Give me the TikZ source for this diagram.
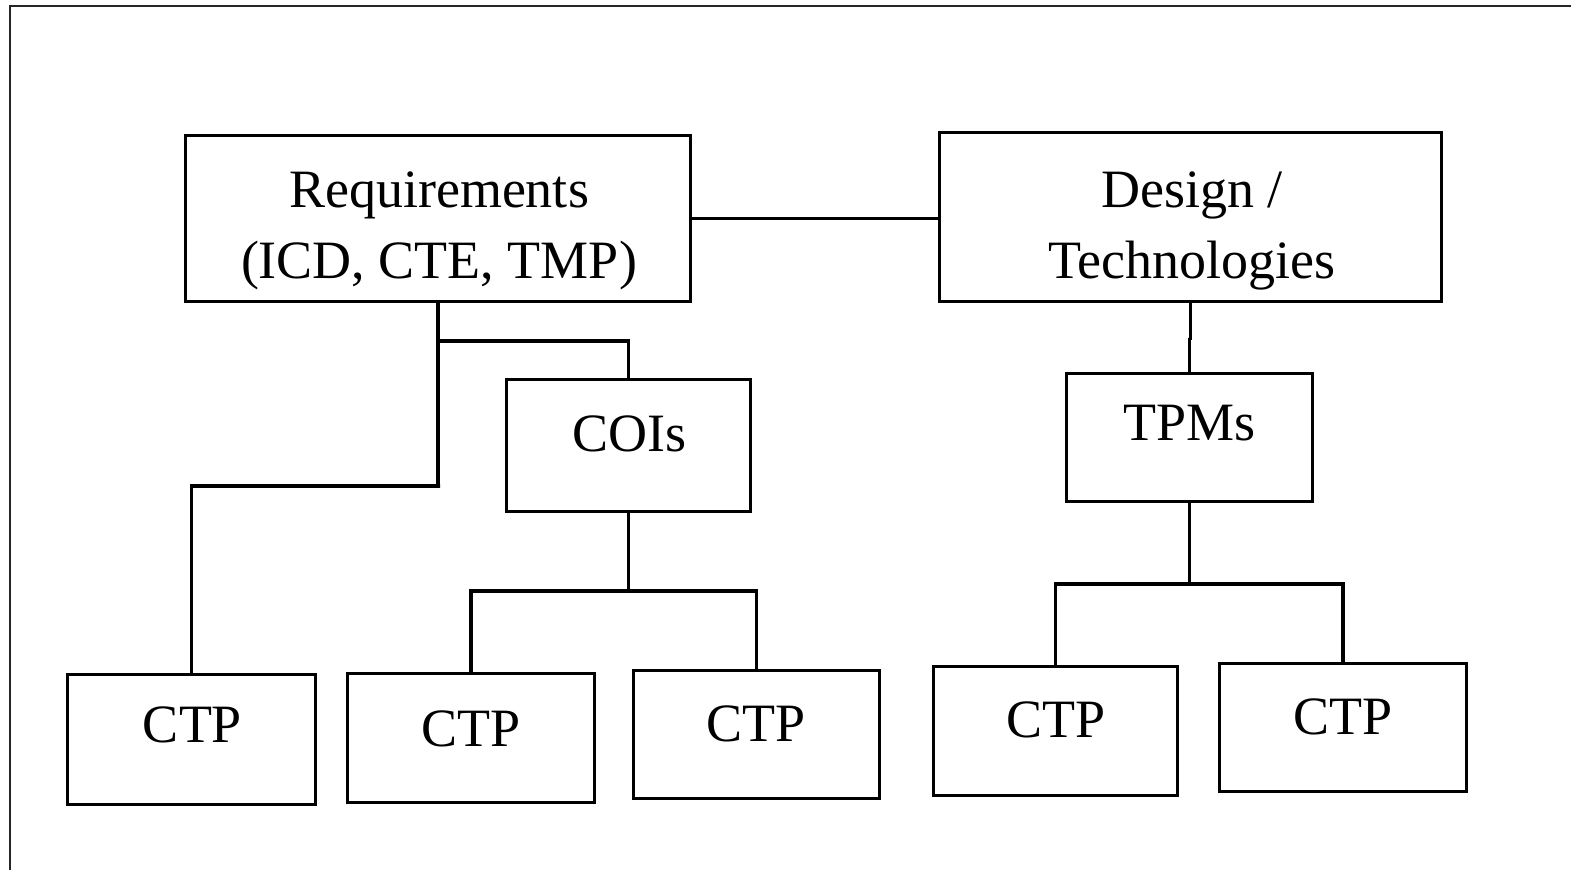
\documentclass[tikz,border=0pt]{standalone}
\usepackage{fontspec}
\setmainfont{Liberation Serif}
\begin{document}
\begin{tikzpicture}[x=1pt,y=-1pt,
  box/.style={draw,line width=3.3pt,rectangle,inner sep=0pt},
  txt/.style={anchor=base,inner sep=0pt,align=center,
    font=\fontsize{54}{71}\selectfont},
  wire/.style={line width=3.3pt}]
\useasboundingbox (0,0) rectangle (1571,870);
% frame edges
\draw[line width=2.8pt,black!85] (1571,6) -- (10,6) -- (10,870);

% boxes
\node[box,minimum width=505pt,minimum height=166pt] (req) at (438,218.5) {};
\node[box,minimum width=502pt,minimum height=169pt] (des) at (1190.5,217) {};
\node[box,minimum width=244pt,minimum height=132pt] (cois) at (628.5,445.5) {};
\node[box,minimum width=246pt,minimum height=128pt] (tpms) at (1189.5,437.5) {};
\node[box,minimum width=248pt,minimum height=130pt] (ctpa) at (191.5,739.5) {};
\node[box,minimum width=247pt,minimum height=129pt] (ctpb) at (471,738) {};
\node[box,minimum width=246pt,minimum height=128pt] (ctpc) at (756.5,734.5) {};
\node[box,minimum width=244pt,minimum height=129pt] (ctpd) at (1055.5,731) {};
\node[box,minimum width=247pt,minimum height=128pt] (ctpe) at (1343,727.5) {};

% labels (multi-line labels are anchored on their last baseline)
\node[txt] (reqt) at (439,278) {Requirements\\(ICD, CTE, TMP)};
\node[txt] (dest) at (1192,278) {Design /\\Technologies};
\node[txt] (coist) at (629.5,451) {COIs};
\node[txt] (tpmst) at (1189.5,440) {TPMs};
\node[txt] (ctpat) at (192.5,742) {CTP};
\node[txt] (ctpbt) at (471,746) {CTP};
\node[txt] (ctpct) at (756,741) {CTP};
\node[txt] (ctpdt) at (1056,737) {CTP};
\node[txt] (ctpet) at (1343,734) {CTP};

% branch points
\coordinate (reqbus) at (440,486);
\coordinate (coibus) at (440,341);
\coordinate (cbus) at (629,591);
\coordinate (tbus) at (1188,584);
\coordinate (djog) at (1189,338);

% connectors
\draw[wire] (req.east) -- (req.east -| des.west);
\draw[wire] (req.south) |- (reqbus) -| (ctpa.north);
\draw[wire] (coibus) -| (cois.north);
\draw[wire] (cois.south) -- (cois.south |- cbus);
\draw[wire] (ctpb.north) |- (cbus) -| (ctpc.north);
\draw[wire] (des.south) |- (djog) -| (tpms.north);
\draw[wire] (tpms.south) -- (tpms.south |- tbus);
\draw[wire] (ctpd.north) |- (tbus) -| (ctpe.north);
\end{tikzpicture}
\end{document}
